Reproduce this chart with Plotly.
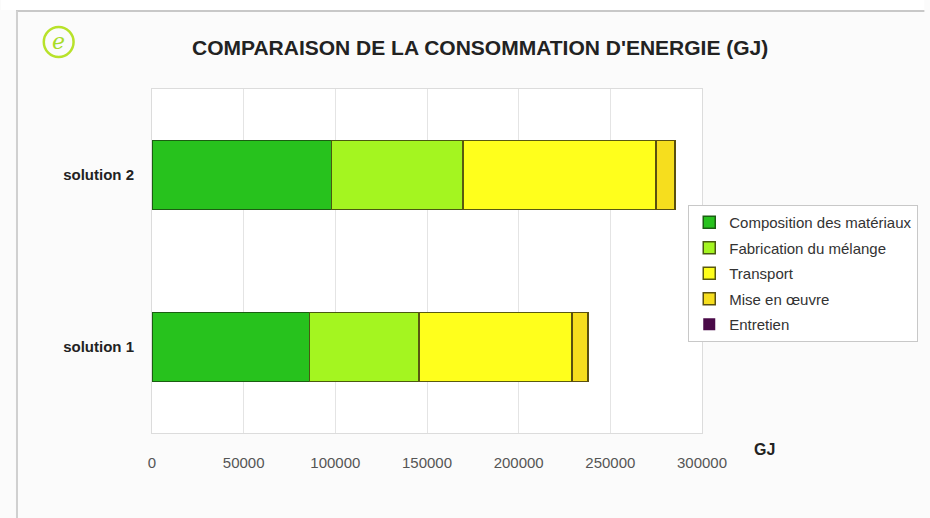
import plotly.graph_objects as go

categories = ["solution 1", "solution 2"]
series_names = ["Composition des matériaux", "Fabrication du mélange", "Transport", "Mise en œuvre", "Entretien"]
composition = [86000, 98000]
fabrication = [59700, 71500]
transport = [83300, 105500]
mise_en_oeuvre = [8700, 10400]
entretien = [0, 0]
tick_vals = [0, 50000, 100000, 150000, 200000, 250000, 300000]
tick_text = ["0", "50000", "100000", "150000", "200000", "250000", "300000"]

series_values = [composition, fabrication, transport, mise_en_oeuvre, entretien]
colors = ["#27c21d", "#a4f520", "#ffff1c", "#f6de1e", "#4a0a48"]
line_colors = ["#1b5e12", "#4a5a10", "#5a5a10", "#5a5010", "#2a0528"]
line_widths = [1.5, 1.5, 1.5, 1.5, 0]

fig = go.Figure()
for name, vals, c, lc, lw in zip(series_names, series_values, colors, line_colors, line_widths):
    fig.add_trace(go.Bar(
        y=categories, x=vals, name=name, orientation="h",
        marker=dict(color=c, line=dict(color=lc, width=lw)),
        legendgroup=name, width=0.4,
    ))

fig.update_layout(
    barmode="stack",
    width=930, height=518,
    margin=dict(l=152, r=224, t=89, b=85),
    paper_bgcolor="#fbfbfb",
    plot_bgcolor="#ffffff",
    font=dict(family="Liberation Sans, Arial, sans-serif", color="#333"),
    showlegend=True,
    legend=dict(
        x=0.975, y=0.663, xanchor="left", yanchor="top",
        bgcolor="#ffffff", bordercolor="#c8c8c8", borderwidth=1,
        font=dict(size=15, color="#333"),
        traceorder="grouped", tracegroupgap=3, itemwidth=30,
    ),
    xaxis=dict(
        range=[0, 300000], tickvals=tick_vals, ticktext=tick_text,
        showgrid=True, gridcolor="#e4e4e4", gridwidth=1,
        zeroline=False, showline=True, linecolor="#dcdcdc", mirror=True,
        tickfont=dict(size=15, color="#555"), ticks="", ticklabelstandoff=16,
    ),
    yaxis=dict(
        showgrid=False, showline=True, linecolor="#dcdcdc", mirror=True,
        tickfont=dict(size=15, color="#222", weight="bold"),
        ticks="", ticklabelstandoff=14,
    ),
    annotations=[
        dict(text="<b>COMPARAISON DE LA CONSOMMATION D'ENERGIE (GJ)</b>",
             xref="paper", yref="paper", x=(482 - 152) / 554, y=(518 - 85 - 47) / 344,
             xanchor="center", yanchor="middle", showarrow=False,
             font=dict(size=21, color="#222")),
        dict(text="<b>GJ</b>", xref="paper", yref="paper",
             x=(769 - 152) / 554, y=(433 - 449) / 344, xanchor="center", yanchor="middle",
             showarrow=False, font=dict(size=16, color="#222")),
        dict(text="<i>e</i>", xref="paper", yref="paper",
             x=(58 - 152) / 554, y=(433 - 42) / 344, xanchor="center", yanchor="middle",
             showarrow=False, font=dict(size=22, color="#a8dc28", family="DejaVu Serif")),
    ],
    shapes=[
        dict(type="rect", xref="paper", yref="paper",
             x0=-152 / 554, x1=(930 - 152) / 554, y0=(433 - 10) / 344, y1=(433 + 85) / 344 + 0.1,
             fillcolor="#ffffff", line=dict(width=0), layer="below"),
        dict(type="line", xref="paper", yref="paper",
             x0=(15 - 152) / 554, x1=(930 - 152) / 554, y0=(433 - 11) / 344, y1=(433 - 11) / 344,
             line=dict(color="#c8c8c8", width=2)),
        dict(type="line", xref="paper", yref="paper",
             x0=(16 - 152) / 554, x1=(16 - 152) / 554, y0=(433 - 11) / 344, y1=(433 - 518) / 344,
             line=dict(color="#d0d0d0", width=2)),
        dict(type="circle", xref="paper", yref="paper",
             x0=(43 - 152) / 554, x1=(73 - 152) / 554, y0=(433 - 27) / 344, y1=(433 - 57) / 344,
             line=dict(color="#b8e22a", width=2.5)),
    ],
)

fig.write_html("out.html", config={"displayModeBar": False},
               post_script="document.body.style.margin='0px';")
